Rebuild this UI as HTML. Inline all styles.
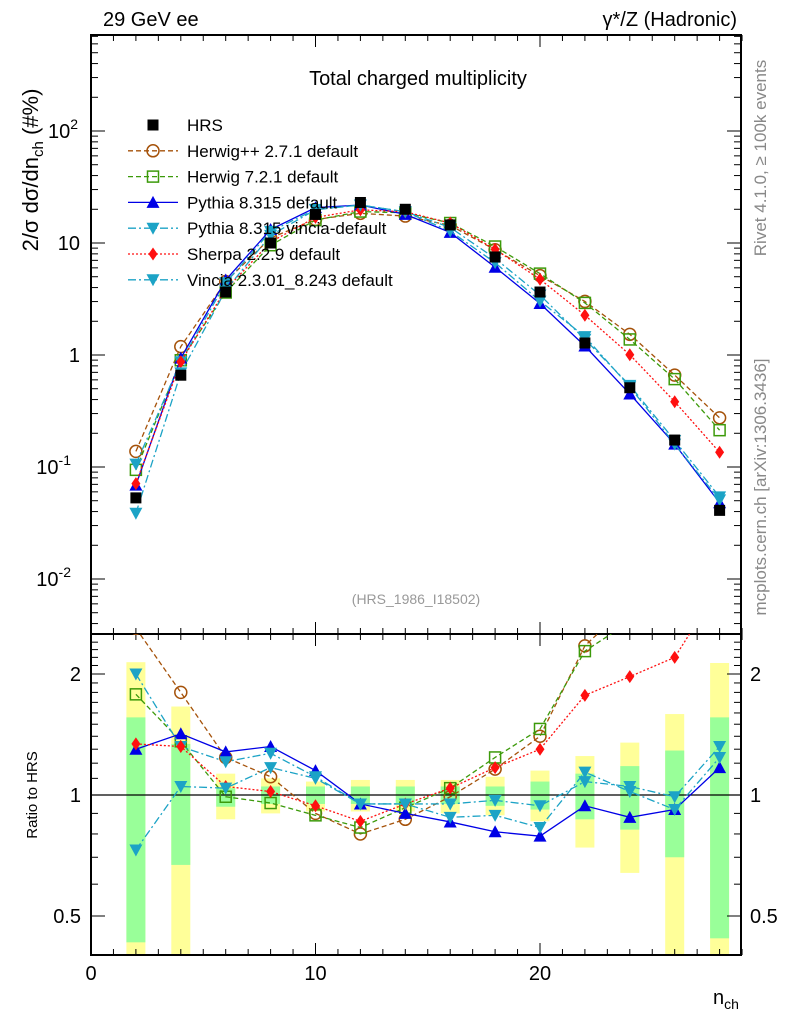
<!DOCTYPE html>
<html><head><meta charset="utf-8"><style>
body{margin:0;background:#fff}
svg{display:block;font-family:"Liberation Sans",sans-serif}
</style></head><body>
<svg id="c" width="786" height="1024" viewBox="0 0 786 1024" xmlns="http://www.w3.org/2000/svg">
<text x="103" y="26" font-size="20">29 GeV ee</text>
<text x="737" y="26" font-size="20" text-anchor="end">γ*/Z (Hadronic)</text>
<text x="418" y="85" font-size="20" text-anchor="middle">Total charged multiplicity</text>
<text transform="translate(38,170) rotate(-90)" font-size="22" text-anchor="middle">2/σ  dσ/dn<tspan font-size="15" dy="5">ch</tspan><tspan dy="-5"> (#%)</tspan></text>
<text transform="translate(37,795) rotate(-90)" font-size="15" text-anchor="middle">Ratio to HRS</text>
<text x="713" y="1004" font-size="20">n<tspan font-size="14" dy="5">ch</tspan></text>
<text transform="translate(766,158) rotate(-90)" font-size="17" fill="#888" text-anchor="middle">Rivet 4.1.0, ≥ 100k events</text>
<text transform="translate(766,487) rotate(-90)" font-size="17" fill="#888" text-anchor="middle">mcplots.cern.ch [arXiv:1306.3436]</text>
<text x="416" y="604" font-size="14" fill="#999" text-anchor="middle">(HRS_1986_I18502)</text>
<defs>
<clipPath id="cm"><rect x="91" y="35" width="650" height="599"/></clipPath>
<clipPath id="cr"><rect x="91" y="634" width="650" height="321"/></clipPath>
</defs>
<g id="bands"></g><g id="ticks"></g><g id="series"></g><g id="legend"></g>
</svg>
<script>
const nch=[2,4,6,8,10,12,14,16,18,20,22,24,26,28];
const hrs=[0.053,0.66,3.65,10,18,23,20,14.5,7.5,3.65,1.28,0.51,0.174,0.041];
const herwigpp=[2.6,1.80,1.24,1.11,0.90,0.80,0.87,0.99,1.16,1.40,2.35,3.0,3.8,6.7];
const herwig7=[1.78,1.36,0.99,0.955,0.89,0.83,0.93,1.04,1.24,1.46,2.28,2.7,3.5,5.2];
const pythia=[1.30,1.42,1.28,1.32,1.15,0.95,0.90,0.857,0.81,0.79,0.94,0.88,0.92,1.17];
const pyvincia=[2.0,1.32,1.21,1.27,1.11,0.95,0.95,0.95,0.97,0.94,1.08,1.05,0.99,1.32];
const sherpa=[1.34,1.32,1.05,1.02,0.94,0.86,0.95,1.04,1.17,1.30,1.77,1.97,2.20,3.3];
const vincia=[0.73,1.05,1.04,1.17,1.10,0.95,0.95,0.88,0.89,0.83,1.14,1.02,0.92,1.24];
const yelHi=[2.14,1.66,1.13,1.10,1.08,1.09,1.09,1.09,1.11,1.15,1.25,1.35,1.59,2.13];
const yelLo=[0.3,0.3,0.87,0.90,0.91,0.91,0.91,0.90,0.89,0.86,0.74,0.64,0.3,0.3];
const grnHi=[1.56,1.34,1.04,1.05,1.05,1.05,1.05,1.05,1.05,1.08,1.13,1.18,1.29,1.56];
const grnLo=[0.43,0.67,0.935,0.95,0.95,0.95,0.95,0.95,0.94,0.92,0.87,0.82,0.70,0.44];
const mainTicks=[["10","-2",-2],["10","-1",-1],["1","",0],["10","",1],["10","2",2]];
const ratioTicks=[["0.5",0.5],["1",1],["2",2]];
const xTicks=[0,10,20];

const NS="http://www.w3.org/2000/svg";
const X=n=>91+n*22.45;
const Ym=v=>355-112*Math.log10(v);
const Yr=r=>795-121*Math.log2(r);
function mk(tag,at,parent){const e=document.createElementNS(NS,tag);for(const k in at)e.setAttribute(k,at[k]);parent.appendChild(e);return e;}
const gb=document.getElementById('bands'),gt=document.getElementById('ticks'),gs=document.getElementById('series'),gl=document.getElementById('legend');

const bc=mk('g',{'clip-path':'url(#cr)'},gb);
nch.forEach((n,i)=>{
 const y=mk('rect',{x:X(n)-9.5,y:Yr(yelHi[i]),width:19,height:Yr(yelLo[i])-Yr(yelHi[i]),fill:'#ffff99'},bc);
 
 
 const g=mk('rect',{x:X(n)-9.5,y:Yr(grnHi[i]),width:19,height:Yr(grnLo[i])-Yr(grnHi[i]),fill:'#99ff99'},bc);
 
 
});
mk('line',{x1:91,x2:741,y1:Yr(1),y2:Yr(1),stroke:'#000','stroke-width':1.2},gb);

const f1=mk('rect',{x:91,y:35,width:650,height:599,fill:'none',stroke:'#000','stroke-width':2},gt);


const f2=mk('rect',{x:91,y:634,width:650,height:321,fill:'none',stroke:'#000','stroke-width':2},gt);


for(let n=0;n<=29;n++){
 const L=n%10===0?12:6;
 [[35,1],[634,-1],[634,1],[955,-1]].forEach(([y0,d])=>mk('line',{x1:X(n),x2:X(n),y1:y0,y2:y0+d*L,stroke:'#000','stroke-width':1},gt));
}
xTicks.forEach(n=>{const t=mk('text',{x:X(n),y:980,'font-size':20,'text-anchor':'middle'},gt);t.textContent=n;
 
 });
for(let e=-3;e<=2;e++){for(let m=1;m<=9;m++){const v=m*Math.pow(10,e);const y=Ym(v);if(y<35||y>634)continue;const L=m===1?14:7;
 mk('line',{x1:91,x2:91+L,y1:y,y2:y,stroke:'#000'},gt);mk('line',{x1:741,x2:741-L,y1:y,y2:y,stroke:'#000'},gt);}}
mainTicks.forEach(([b,ex,e])=>{const t=mk('text',{x:e===0||e===1?80:78,y:Ym(Math.pow(10,e))+7,'font-size':20,'text-anchor':'end'},gt);
 
 
 t.textContent=b; if(ex){const s=mk('tspan',{'font-size':14,dy:-9},t);s.textContent=ex; if(e<0){t.setAttribute('x',71);}}});
for(let r=0.4;r<=2.5;r+=0.1){const rr=Math.round(r*10)/10;const y=Yr(rr);if(y<634||y>955)continue;const L=(rr===0.5||rr===1||rr===2)?14:7;
 mk('line',{x1:91,x2:91+L,y1:y,y2:y,stroke:'#000'},gt);mk('line',{x1:741,x2:741-L,y1:y,y2:y,stroke:'#000'},gt);}
ratioTicks.forEach(([s,r])=>{
 const a=mk('text',{x:81,y:Yr(r)+7,'font-size':20,'text-anchor':'end'},gt);a.textContent=s;
 
 
 const b=mk('text',{x:750,y:Yr(r)+7,'font-size':20},gt);b.textContent=s;
 
 
});

function marker(p,type,x,y,col){
 if(type==='sq')return mk('rect',{x:x-5.5,y:y-5.5,width:11,height:11,fill:col},p);
 if(type==='osq')return mk('rect',{x:x-5.5,y:y-5.5,width:11,height:11,fill:'none',stroke:col,'stroke-width':1.5},p);
 if(type==='oc')return mk('circle',{cx:x,cy:y,r:6,fill:'none',stroke:col,'stroke-width':1.5},p);
 if(type==='tu')return mk('polygon',{points:`${x-6.5},${y+5.5} ${x+6.5},${y+5.5} ${x},${y-6.5}`,fill:col},p);
 if(type==='td')return mk('polygon',{points:`${x-6.5},${y-5.5} ${x+6.5},${y-5.5} ${x},${y+6.5}`,fill:col},p);
 if(type==='di')return mk('polygon',{points:`${x},${y-6.5} ${x+4.5},${y} ${x},${y+6.5} ${x-4.5},${y}`,fill:col},p);
}
const series=[
 ['herwigpp',herwigpp,'#a5520a','oc','5,3','Herwig++ 2.7.1 default'],
 ['herwig7',herwig7,'#3c9a0a','osq','5,3','Herwig 7.2.1 default'],
 ['pythia',pythia,'#0000e6','tu','','Pythia 8.315 default'],
 ['pythia-vincia',pyvincia,'#1ca3c6','td','8,3,2,3','Pythia 8.315 vincia-default'],
 ['sherpa',sherpa,'#ff1010','di','2,2','Sherpa 2.2.9 default'],
 ['vincia',vincia,'#1ca3c6','td','8,3,2,3','Vincia 2.3.01_8.243 default']
];
const gm=mk('g',{'clip-path':'url(#cm)'},gs), gr=mk('g',{'clip-path':'url(#cr)'},gs);
series.forEach(([name,rat,col,mt,da])=>{
 const vals=rat.map((r,i)=>r*hrs[i]);
 const l1=mk('polyline',{points:nch.map((n,i)=>X(n)+','+Ym(vals[i])).join(' '),fill:'none',stroke:col,'stroke-width':1.3,'stroke-dasharray':da},gm);
 
 
 const l2=mk('polyline',{points:nch.map((n,i)=>X(n)+','+Yr(rat[i])).join(' '),fill:'none',stroke:col,'stroke-width':1.3,'stroke-dasharray':da},gr);
 
 
 nch.forEach((n,i)=>{
  const a=marker(gm,mt,X(n),Ym(vals[i]),col);
  
  
  const b=marker(gr,mt,X(n),Yr(rat[i]),col);
  
  
 });
});
nch.forEach((n,i)=>{const a=marker(gm,'sq',X(n),Ym(hrs[i]),'#000');
 
 });

const entries=[['HRS','#000','sq','none']].concat(series.map(s=>[s[5],s[2],s[3],s[4]]));
entries.forEach(([lab,col,mt,da],i)=>{
 const y=125+i*25.8;
 const g=mk('g',{},gl);
 
 
 if(da!=='none')mk('line',{x1:128,x2:178,y1:y,y2:y,stroke:col,'stroke-width':1.3,'stroke-dasharray':da},g);
 marker(g,mt,153,y,col);
 const t=mk('text',{x:187,y:y+6,'font-size':17},g);t.textContent=lab;
});
</script>
</body></html>
